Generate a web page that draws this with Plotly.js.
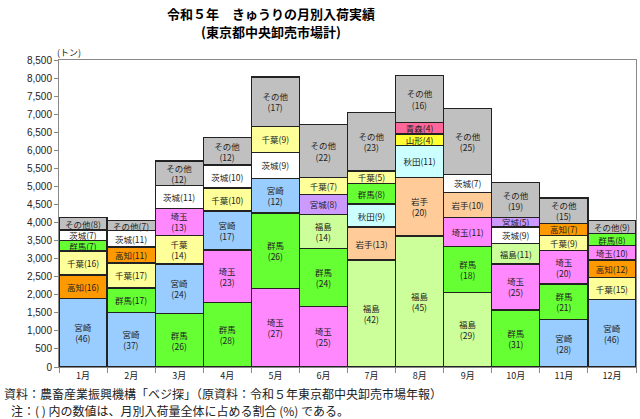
<!DOCTYPE html>
<html>
<head>
<meta charset="utf-8">
<script src="https://cdn.plot.ly/plotly-3.0.1.min.js"></script>
<style>
  body { margin: 0; background: #fff; }
  #chart { width: 640px; height: 419px; }
</style>
</head>
<body>
<div id="chart"></div>
<script>
// months on the x axis
const months = ["1月", "2月", "3月", "4月", "5月", "6月", "7月", "8月", "9月", "10月", "11月", "12月"];

// stacked segments, rank 1 = bottom of the bar ... rank 6 = top (その他)
const labels1 = ["宮崎<br>(46)", "宮崎<br>(37)", "群馬<br>(26)", "群馬<br>(28)", "埼玉<br>(27)", "埼玉<br>(25)", "福島<br>(42)", "福島<br>(45)", "福島<br>(29)", "群馬<br>(31)", "宮崎<br>(28)", "宮崎<br>(46)"];
const values1 = [1890, 1500, 1480, 1780, 2170, 1680, 2960, 3630, 2060, 1580, 1310, 1865];

const labels2 = ["高知(16)", "群馬(17)", "宮崎<br>(24)", "埼玉<br>(23)", "群馬<br>(26)", "群馬<br>(24)", "岩手(13)", "岩手<br>(20)", "群馬<br>(18)", "埼玉<br>(25)", "群馬<br>(21)", "千葉(15)"];
const values2 = [660, 690, 1370, 1460, 2090, 1610, 915, 1615, 1270, 1275, 985, 610];

const labels3 = ["千葉(16)", "千葉(17)", "千葉<br>(14)", "宮崎<br>(17)", "宮崎<br>(12)", "福島<br>(14)", "秋田(9)", "秋田(11)", "埼玉(11)", "福島(11)", "埼玉<br>(20)", "高知(12)"];
const values3 = [660, 690, 800, 1080, 965, 940, 635, 890, 800, 560, 935, 485];

const labels4 = ["群馬(7)", "高知(11)", "埼玉<br>(13)", "千葉(10)", "茨城(9)", "宮城(8)", "群馬(8)", "山形(4)", "岩手(10)", "茨城(9)", "千葉(9)", "埼玉(10)"];
const values4 = [285, 445, 740, 635, 720, 540, 565, 320, 710, 460, 420, 405];

const labels5 = ["茨城(7)", "茨城(11)", "茨城(11)", "茨城(10)", "千葉(9)", "千葉(7)", "千葉(5)", "青森(4)", "茨城(7)", "宮城(5)", "高知(7)", "群馬(8)"];
const values5 = [300, 445, 630, 635, 720, 470, 350, 320, 490, 255, 330, 325];

const labels6 = ["その他(8)", "その他(7)", "その他<br>(12)", "その他<br>(12)", "その他<br>(17)", "その他<br>(22)", "その他<br>(23)", "その他<br>(16)", "その他<br>(25)", "その他<br>(19)", "その他<br>(15)", "その他(9)"];
const values6 = [335, 285, 680, 760, 1365, 1480, 1620, 1290, 1820, 970, 700, 365];

// colour per producing prefecture
const prefColors = {
    "宮崎": "#99CCFF",
    "高知": "#FF9900",
    "千葉": "#FFFF99",
    "群馬": "#66FF33",
    "茨城": "#FFFFFF",
    "埼玉": "#FF88FF",
    "福島": "#CCFF99",
    "宮城": "#CC99FF",
    "岩手": "#FFCC99",
    "秋田": "#CCFFFF",
    "山形": "#FFFF33",
    "青森": "#FF6699",
    "その他": "#C0C0C0"
};

const jp = '"Noto Sans CJK JP", "Noto Sans", sans-serif';

function segTrace(labels, values) {
    const colors = labels.map(l => prefColors[l.split(/<br>|\(/)[0]]);
    return {
        type: 'bar',
        x: months,
        y: values,
        text: labels,
        textposition: 'inside',
        insidetextanchor: 'middle',
        textangle: 0,
        constraintext: 'none',
        cliponaxis: false,
        textfont: { family: jp, size: 8.5, color: '#222' },
        marker: { color: colors, line: { color: '#222', width: 1.3 } },
        hoverinfo: 'x+y',
        showlegend: false
    };
}

const data = [
    segTrace(labels1, values1),
    segTrace(labels2, values2),
    segTrace(labels3, values3),
    segTrace(labels4, values4),
    segTrace(labels5, values5),
    segTrace(labels6, values6)
];

// pixel row/col -> paper coords (plot area spans cols 59..636, rows 60..367)
const py = row => (367 - row) / 307;
const px = col => (col - 59) / 577;

const layout = {
    width: 640,
    height: 419,
    margin: { l: 59, r: 4, t: 60, b: 52 },
    paper_bgcolor: '#fff',
    plot_bgcolor: '#fff',
    barmode: 'stack',
    bargap: 0,
    showlegend: false,
    xaxis: {
        type: 'category',
        showline: true,
        linecolor: '#888',
        linewidth: 1,
        mirror: true,
        ticks: 'outside',
        tickson: 'boundaries',
        ticklen: 5,
        tickcolor: '#888',
        showgrid: false,
        tickfont: { family: jp, size: 9, color: '#222' }
    },
    yaxis: {
        range: [0, 8500],
        dtick: 500,
        tickformat: ',d',
        showline: true,
        linecolor: '#888',
        linewidth: 1,
        mirror: true,
        ticks: 'outside',
        ticklen: 4,
        tickcolor: '#888',
        showgrid: false,
        zeroline: false,
        tickfont: { family: '"Liberation Sans", Arial, sans-serif', size: 10, color: '#222' }
    },
    annotations: [
        {
            text: '<b>令和５年　きゅうりの月別入荷実績</b>',
            xref: 'paper', yref: 'paper',
            x: px(271), y: py(14),
            xanchor: 'center', yanchor: 'middle',
            showarrow: false,
            font: { family: jp, size: 13, color: '#000' }
        },
        {
            text: '<b>(東京都中央卸売市場計)</b>',
            xref: 'paper', yref: 'paper',
            x: px(271), y: py(32),
            xanchor: 'center', yanchor: 'middle',
            showarrow: false,
            font: { family: jp, size: 13, color: '#000' }
        },
        {
            text: '(トン)',
            xref: 'paper', yref: 'paper',
            x: px(55), y: py(52),
            xanchor: 'left', yanchor: 'middle',
            showarrow: false,
            font: { family: jp, size: 9, color: '#222' }
        },
        {
            text: '資料：農畜産業振興機構「ベジ探」（原資料：令和５年東京都中央卸売市場年報）',
            xref: 'paper', yref: 'paper',
            x: px(2), y: py(393),
            xanchor: 'left', yanchor: 'middle',
            showarrow: false,
            font: { family: jp, size: 12, color: '#222' }
        },
        {
            text: '注：( ) 内の数値は、月別入荷量全体に占める割合 (%) である。',
            xref: 'paper', yref: 'paper',
            x: px(9), y: py(410),
            xanchor: 'left', yanchor: 'middle',
            showarrow: false,
            font: { family: jp, size: 12, color: '#222' }
        }
    ]
};

Plotly.newPlot('chart', data, layout, { staticPlot: true });
</script>
</body>
</html>
